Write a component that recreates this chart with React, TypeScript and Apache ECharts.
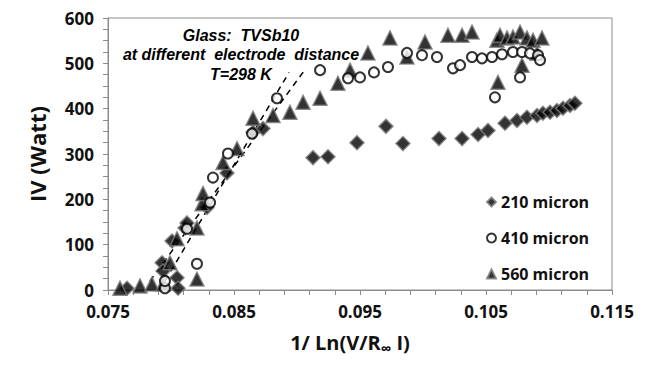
import React, { useEffect, useRef } from "react";
import * as echarts from "echarts";

const seriesNames = ["210 micron", "410 micron", "560 micron"];

const x210 = [0.07651, 0.07929, 0.07937, 0.08048, 0.08056, 0.08008, 0.08111, 0.08127, 0.08286, 0.08444, 0.08651, 0.0873, 0.09127, 0.09246, 0.09476, 0.09706, 0.09841, 0.10127, 0.1031, 0.10437, 0.10516, 0.10651, 0.10746, 0.10825, 0.10905, 0.10952, 0.11008, 0.11063, 0.11111, 0.11167, 0.11206];
const y210 = [4, 60, 42, 27, 4, 108, 137, 148, 182, 258, 348, 356, 292, 294, 325, 361, 323, 334, 334, 343, 352, 368, 374, 381, 385, 390, 392, 396, 401, 407, 412];

const x410 = [0.07952, 0.07952, 0.08206, 0.08127, 0.0831, 0.08333, 0.08452, 0.08643, 0.08841, 0.09183, 0.09405, 0.095, 0.09611, 0.09722, 0.09873, 0.09992, 0.10111, 0.10238, 0.10294, 0.10389, 0.10468, 0.10548, 0.10627, 0.10714, 0.10786, 0.10849, 0.10913, 0.10929, 0.1077, 0.10571];
const y410 = [4, 20, 58, 135, 193, 248, 301, 345, 423, 485, 467, 469, 480, 492, 523, 518, 514, 489, 496, 514, 511, 514, 520, 525, 525, 522, 518, 507, 469, 425];

const x560 = [0.07595, 0.07754, 0.07849, 0.07937, 0.07992, 0.08048, 0.08206, 0.08206, 0.08246, 0.08254, 0.08413, 0.08524, 0.08651, 0.0881, 0.08944, 0.09048, 0.09183, 0.09325, 0.09421, 0.09563, 0.09738, 0.09873, 0.10016, 0.10198, 0.1031, 0.10389, 0.10587, 0.10611, 0.10667, 0.10714, 0.1077, 0.10825, 0.10873, 0.10944, 0.10905, 0.10786, 0.10595];
const y560 = [4, 9, 13, 13, 60, 113, 24, 137, 190, 213, 281, 312, 379, 385, 392, 414, 423, 456, 485, 523, 556, 514, 547, 562, 562, 569, 551, 562, 556, 558, 569, 556, 551, 556, 522, 496, 458];

const fitLineA = [[0.07952, 20], [0.08937, 480]];
const fitLineB = [[0.07833, 20], [0.09071, 489]];

const annotationLines = ["Glass:  TVSb10", "at different  electrode  distance", "T=298 K"];

const pairs = (xs: number[], ys: number[]) => xs.map((x, i) => [x, ys[i]]);

const axisFont = "'Open Sans', 'DejaVu Sans', sans-serif";

export default function App() {
  const ref = useRef<HTMLDivElement>(null);
  useEffect(() => {
    if (!ref.current) return;
    const chart = echarts.init(ref.current, undefined, { renderer: "svg" });
    const markerBorder = "#7a7a7a";
    chart.setOption({
      animation: false,
      backgroundColor: "#ffffff",
      grid: {
        left: 108,
        right: 36,
        top: 18,
        bottom: 75,
        show: true,
        borderColor: "#8c8c8c",
        borderWidth: 1,
        backgroundColor: "transparent",
      },
      legend: {
        orient: "vertical",
        left: 481,
        top: 189,
        itemWidth: 9,
        itemHeight: 9,
        itemGap: 20,
        data: seriesNames,
        textStyle: {
          fontFamily: axisFont,
          fontWeight: "bold",
          fontSize: 16,
          color: "#111",
        },
      },
      xAxis: {
        type: "value",
        min: 0.075,
        max: 0.115,
        interval: 0.01,
        name: "{a|1/ Ln(V/R}{s|∞}{a| I)}",
        nameLocation: "middle",
        nameGap: 40,
        nameTextStyle: {
          padding: [0, 20, 0, 0],
          rich: {
            a: { fontFamily: axisFont, fontWeight: "bold", fontSize: 20, color: "#111" },
            s: { fontFamily: axisFont, fontWeight: "bold", fontSize: 15, color: "#111", padding: [10, 0, 0, 0] },
          },
        },
        axisLine: { show: true, lineStyle: { color: "#8c8c8c", width: 1 } },
        axisTick: { show: true, length: 5, inside: false, lineStyle: { color: "#8c8c8c" } },
        minorTick: { show: true, splitNumber: 5, length: 5, lineStyle: { color: "#8c8c8c" } },
        splitLine: { show: false },
        axisLabel: {
          margin: 13,
          fontFamily: axisFont,
          fontWeight: "bold",
          fontSize: 17,
          color: "#111",
          formatter: (v: number) => v.toFixed(3),
        },
      },
      yAxis: {
        type: "value",
        min: 0,
        max: 600,
        interval: 100,
        name: "IV (Watt)",
        nameLocation: "middle",
        nameGap: 60,
        nameTextStyle: { fontFamily: axisFont, fontWeight: "bold", fontSize: 22, color: "#111" },
        axisLine: { show: true, lineStyle: { color: "#8c8c8c", width: 1 } },
        axisTick: { show: true, length: 5, inside: false, lineStyle: { color: "#8c8c8c" } },
        minorTick: { show: true, splitNumber: 4, length: 5, lineStyle: { color: "#8c8c8c" } },
        splitLine: { show: false },
        axisLabel: {
          margin: 14,
          fontFamily: axisFont,
          fontWeight: "bold",
          fontSize: 17,
          color: "#111",
        },
      },
      graphic: annotationLines.map((t, i) => ({
        type: "text",
        x: 241,
        y: 35 + i * 19.5,
        z: 100,
        style: {
          text: t,
          fill: "#000",
          font: "italic bold 16px 'Liberation Sans', Arial, sans-serif",
          textAlign: "center",
          textVerticalAlign: "middle",
        },
      })),
      series: [
        {
          name: "fitA",
          type: "line",
          data: fitLineA,
          symbol: "none",
          lineStyle: { color: "#000", width: 1.5, type: [6, 5] },
          z: 1,
          silent: true,
        },
        {
          name: "fitB",
          type: "line",
          data: fitLineB,
          symbol: "none",
          lineStyle: { color: "#000", width: 1.5, type: [6, 5] },
          z: 1,
          silent: true,
        },
        {
          name: seriesNames[0],
          type: "scatter",
          symbol: "diamond",
          symbolSize: 14,
          data: pairs(x210, y210),
          itemStyle: { color: "#000", borderColor: markerBorder, borderWidth: 1.5 },
          z: 3,
        },
        {
          name: seriesNames[1],
          type: "scatter",
          symbol: "circle",
          symbolSize: 10,
          data: pairs(x410, y410),
          itemStyle: { color: "#fff", borderColor: "#000", borderWidth: 2 },
          z: 4,
        },
        {
          name: seriesNames[2],
          type: "scatter",
          symbol: "triangle",
          symbolSize: 14,
          data: pairs(x560, y560),
          itemStyle: { color: "#000", borderColor: markerBorder, borderWidth: 1.5 },
          z: 3,
        },
      ],
    });
    return () => chart.dispose();
  }, []);
  return <div ref={ref} style={{ position: "absolute", left: 0, top: 0, width: 648, height: 365 }} />;
}
